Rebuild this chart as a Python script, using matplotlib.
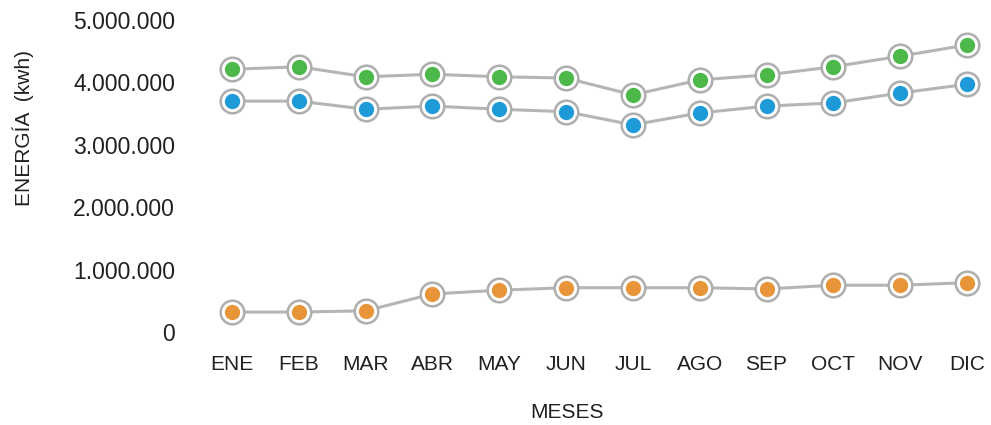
import numpy as np
import matplotlib.pyplot as plt

plt.rcParams['font.family'] = ['Liberation Sans', 'DejaVu Sans']

meses = ['ENE', 'FEB', 'MAR', 'ABR', 'MAY', 'JUN', 'JUL', 'AGO', 'SEP', 'OCT', 'NOV', 'DIC']
verde = [4.21, 4.25, 4.09, 4.13, 4.09, 4.07, 3.80, 4.04, 4.12, 4.25, 4.42, 4.60]
azul = [3.70, 3.70, 3.57, 3.62, 3.57, 3.53, 3.32, 3.51, 3.62, 3.67, 3.83, 3.97]
naranja = [0.32, 0.32, 0.34, 0.61, 0.67, 0.71, 0.71, 0.71, 0.69, 0.75, 0.75, 0.79]
yticks = [0, 1, 2, 3, 4, 5]
ytick_labels = ['0', '1.000.000', '2.000.000', '3.000.000', '4.000.000', '5.000.000']

fig = plt.figure(figsize=(9.91, 4.25), dpi=100)
ax = fig.add_axes([200 / 991, 80 / 425, 791 / 991, 335 / 425])

x = np.arange(len(meses))
series = [(verde, '#4cb84a'), (azul, '#1f9ad8'), (naranja, '#e8953a')]
for vals, col in series:
    vals = np.array(vals) * 1e6
    ax.plot(x, vals, color='#b5b5b5', lw=2.2, zorder=1)
    ax.plot(x, vals, 'o', ms=17, mfc='white', mec='#aeaeae', mew=1.8, zorder=2)
    ax.plot(x, vals, 'o', ms=11, mfc=col, mec='none', zorder=3)

ax.set_xlim(-0.479, 11.36)
ax.set_ylim(-0.208e6, 5.16e6)
ax.set_xticks(x)
ax.set_xticklabels(meses, fontsize=15, color='#231f20')
ax.set_yticks(np.array(yticks) * 1e6)
ax.set_yticklabels(ytick_labels, fontsize=16.5, color='#231f20')
ax.tick_params(length=0)
ax.tick_params(axis='y', pad=18)
ax.tick_params(axis='x', pad=7)
for s in ax.spines.values():
    s.set_visible(False)

fig.text(567 / 991, 1 - 412 / 425, 'MESES', ha='center', va='center', fontsize=15, color='#231f20')
fig.text(23 / 991, 1 - 128 / 425, 'ENERGÍA  (kwh)', ha='center', va='center',
         rotation=90, fontsize=15, color='#231f20')

fig.savefig('out.png', dpi=100)
